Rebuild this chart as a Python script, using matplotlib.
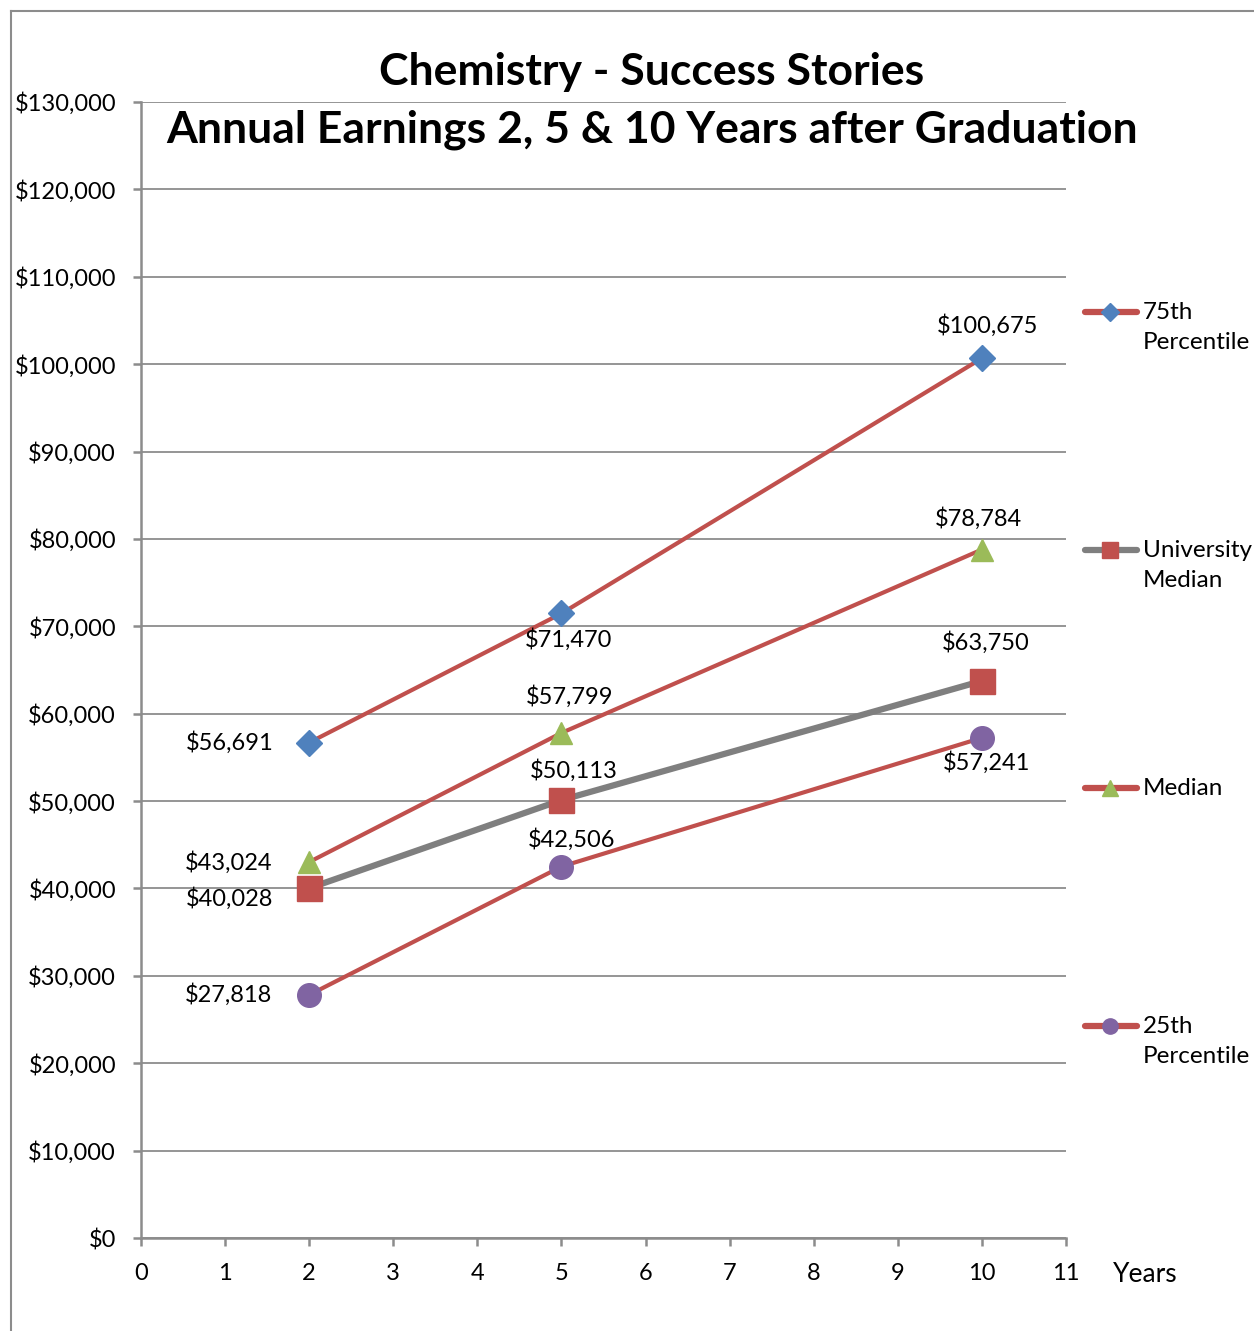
import matplotlib.pyplot as plt
from matplotlib.lines import Line2D
from matplotlib.ticker import FuncFormatter, MultipleLocator

plt.rcParams['font.family'] = ['Lato', 'DejaVu Sans']

# data
years = [2, 5, 10]
p75 = [56691, 71470, 100675]
univ_median = [40028, 50113, 63750]
median = [43024, 57799, 78784]
p25 = [27818, 42506, 57241]

RED = "#C0504D"
GRAY = "#7F7F7F"
GRID = "#8C8C8C"

fig = plt.figure(figsize=(12.54, 13.31), dpi=100)
ax = fig.add_axes([141 / 1254, 1 - 1238 / 1331, (1066 - 141) / 1254, (1238 - 102) / 1331])

ax.plot(years, p75, color=RED, lw=3, marker="D", ms=13, mfc="#4F81BD", mec="#4F81BD", zorder=4)
ax.plot(years, median, color=RED, lw=3, marker="^", ms=16, mfc="#9BBB59", mec="#9BBB59", zorder=3)
ax.plot(years, univ_median, color=GRAY, lw=4.5, marker="s", ms=18, mfc="#C0504D", mec="#C0504D", zorder=4)
ax.plot(years, p25, color=RED, lw=3, marker="o", ms=17, mfc="#8064A2", mec="#8064A2", zorder=4)

# data labels, offsets in pixels
fs_lab = 17
def lab(xs, ys, offs, has):
    for x, y, (dx, dy), ha in zip(xs, ys, offs, has):
        ax.annotate(f"${y:,.0f}", (x, y), xytext=(dx / 1.389, dy / 1.389), textcoords="offset points",
                    ha=ha, va="center", fontsize=fs_lab, zorder=6)

lab(years, p75, [(-36, 0), (7, -26), (6, 33)], ["right", "center", "center"])
lab(years, median, [(-37, 0), (8, 36), (-3, 31)], ["right", "center", "center"])
lab(years, univ_median, [(-36, -10), (12, 30), (4, 38)], ["right", "center", "center"])
lab(years, p25, [(-37, 0), (10, 27), (5, -25)], ["right", "center", "center"])

ax.set_xlim(0, 11)
ax.set_ylim(0, 130000)
ax.xaxis.set_major_locator(MultipleLocator(1))
ax.yaxis.set_major_locator(MultipleLocator(10000))
ax.yaxis.set_major_formatter(FuncFormatter(lambda v, p: f"${v:,.0f}"))
ax.grid(axis="y", color=GRID, lw=1.3)
ax.set_axisbelow(True)
for s in ["top", "right"]:
    ax.spines[s].set_visible(False)
for s in ["left", "bottom"]:
    ax.spines[s].set_color(GRID)
    ax.spines[s].set_linewidth(1.8)
ax.tick_params(axis="both", colors=GRID, width=1.8, length=6, labelsize=17, labelcolor="black")
ax.tick_params(axis="y", pad=12)
ax.tick_params(axis="x", pad=12)

fig.text(1113 / 1254, 1 - 1274 / 1331, "Years", fontsize=19, ha="left", va="center")

fig.text(652 / 1254, 1 - 72 / 1331, "Chemistry - Success Stories", fontsize=32, fontweight="bold",
         ha="center", va="center")
fig.text(652 / 1254, 1 - 130 / 1331, "Annual Earnings 2, 5 & 10 Years after Graduation", fontsize=32,
         fontweight="bold", ha="center", va="center")

# legend drawn by hand on the right
legend_items = [
    ("75th\nPercentile", RED, "D", "#4F81BD", 312, 9),
    ("University\nMedian", GRAY, "s", "#C0504D", 550, 11),
    ("Median", RED, "^", "#9BBB59", 788, 11),
    ("25th\nPercentile", RED, "o", "#8064A2", 1026, 11),
]
for label, lc, mk, mc, ypix, ms in legend_items:
    yf = 1 - ypix / 1331
    fig.add_artist(Line2D([1085 / 1254, 1137 / 1254], [yf, yf], color=lc, lw=4.5,
                          solid_capstyle="round", transform=fig.transFigure))
    fig.add_artist(Line2D([1110 / 1254], [yf], marker=mk, ms=ms, mfc=mc, mec=mc, ls="none",
                          transform=fig.transFigure))
    fig.text(1143 / 1254, yf + 10 / 1331, label, fontsize=17.5, ha="left", va="top",
             linespacing=1.55)

# chart area border (cropped)
fig.add_artist(Line2D([11 / 1254, 11 / 1254], [0, 1 - 11 / 1331], color="#8C8C8C", lw=1.5,
                      transform=fig.transFigure))
fig.add_artist(Line2D([11 / 1254, 1], [1 - 11 / 1331, 1 - 11 / 1331], color="#8C8C8C", lw=1.5,
                      transform=fig.transFigure))

fig.savefig("out.png", dpi=100, facecolor="white")
